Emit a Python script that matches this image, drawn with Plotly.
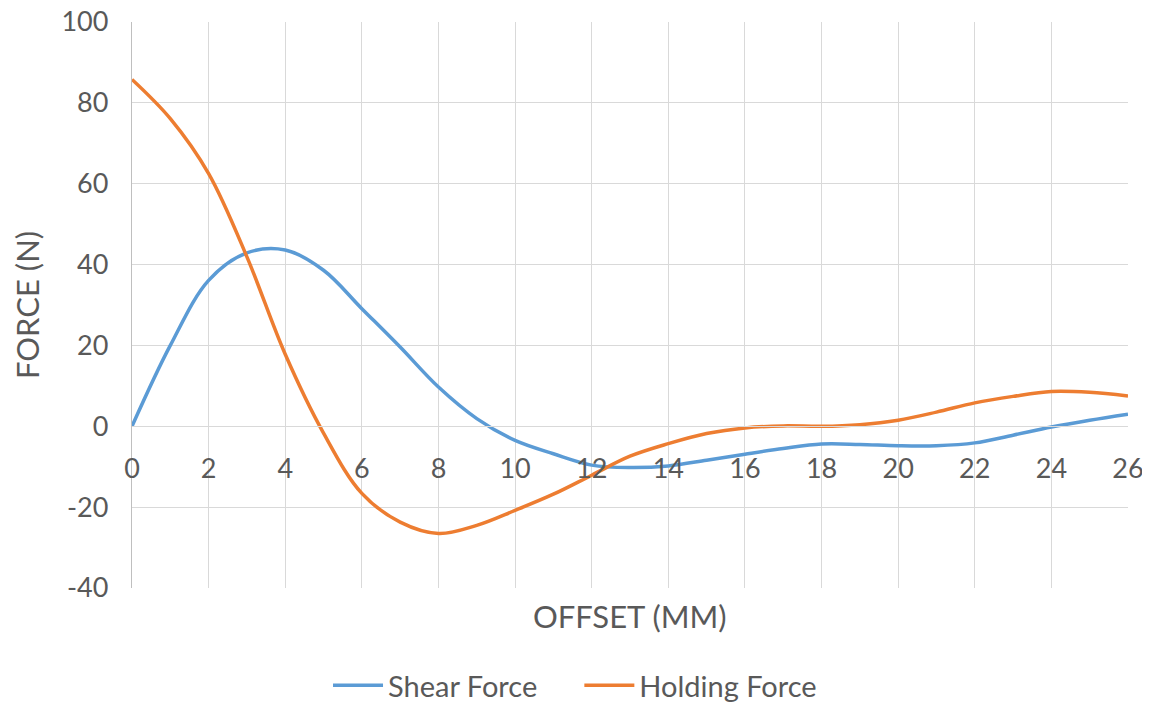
import plotly.graph_objects as go

offset_mm = list(range(0, 27))
shear_force = [0, 20, 36.1, 42.9, 43.6, 38.6, 29.1, 19.6, 9.7, 1.9, -3.5, -6.8, -9.6, -10.2, -9.8,
               -8.4, -6.9, -5.5, -4.4, -4.5, -4.8, -4.8, -4.1, -2.2, -0.2, 1.5, 3.0]
holding_force = [85.8, 76.1, 62.5, 41.9, 17.8, -1.7, -16.6, -23.7, -26.5, -24.5, -20.8, -16.8, -12.1,
                 -7.4, -4.3, -1.8, -0.4, 0.1, 0.0, 0.4, 1.5, 3.5, 5.8, 7.4, 8.6, 8.4, 7.5]

x_ticks = list(range(0, 27, 2))
y_ticks = list(range(-40, 101, 20))
y_tick_text = [str(v) for v in y_ticks]

FONT = "Lato"
GREY = "#595959"
NBSP = "\u00a0"

fig = go.Figure()
fig.add_trace(go.Scatter(x=offset_mm, y=shear_force, name="Shear Force" + NBSP * 5, mode="lines",
                         line=dict(color="#5B9BD5", width=3.5, shape="spline", smoothing=1.0),
                         cliponaxis=False))
fig.add_trace(go.Scatter(x=offset_mm, y=holding_force, name="Holding Force", mode="lines",
                         line=dict(color="#ED7D31", width=3.5, shape="spline", smoothing=1.0),
                         cliponaxis=False))

y_lo, y_hi = y_ticks[0], y_ticks[-1]
zero_pos = (0 - y_lo) / (y_hi - y_lo)

fig.update_layout(
    width=1142, height=703,
    margin=dict(l=124, r=22, t=14, b=123, autoexpand=False),
    paper_bgcolor="white", plot_bgcolor="white",
    font=dict(family=FONT, size=27, color=GREY),
    showlegend=True,
    legend=dict(orientation="h", x=0.4448, xanchor="center", y=-0.2173, yanchor="bottom",
                font=dict(size=29, color=GREY), itemwidth=50, tracegroupgap=0,
                bgcolor="rgba(0,0,0,0)"),
    xaxis=dict(range=[0, 26], tickvals=x_ticks, showgrid=True, gridcolor="#D9D9D9", gridwidth=1.3,
               zeroline=False, showline=True, linecolor="#D9D9D9", linewidth=1.3,
               anchor="free", position=zero_pos, ticks="", ticklabelstandoff=18,
               ticklabeloverflow="allow", tickfont=dict(size=27, color=GREY)),
    yaxis=dict(range=[y_lo, y_hi], tickvals=y_ticks, ticktext=y_tick_text, showgrid=True,
               gridcolor="#D9D9D9", gridwidth=1.3,
               zeroline=False, showline=True, linecolor="#BFBFBF", linewidth=1.3,
               ticks="", ticklabelstandoff=17, ticklabeloverflow="allow",
               tickfont=dict(size=27, color=GREY)),
    annotations=[
        dict(text="OFFSET (MM)", xref="paper", yref="paper", x=0.5, y=-0.0116, xanchor="center",
             yanchor="top", showarrow=False, font=dict(size=31, color=GREY)),
        dict(text="FORCE (N)", xref="paper", yref="paper", x=-0.1054, y=0.5, xanchor="center",
             yanchor="middle", textangle=-90, showarrow=False, font=dict(size=31, color=GREY)),
    ],
)

fig.write_html("out.html")
